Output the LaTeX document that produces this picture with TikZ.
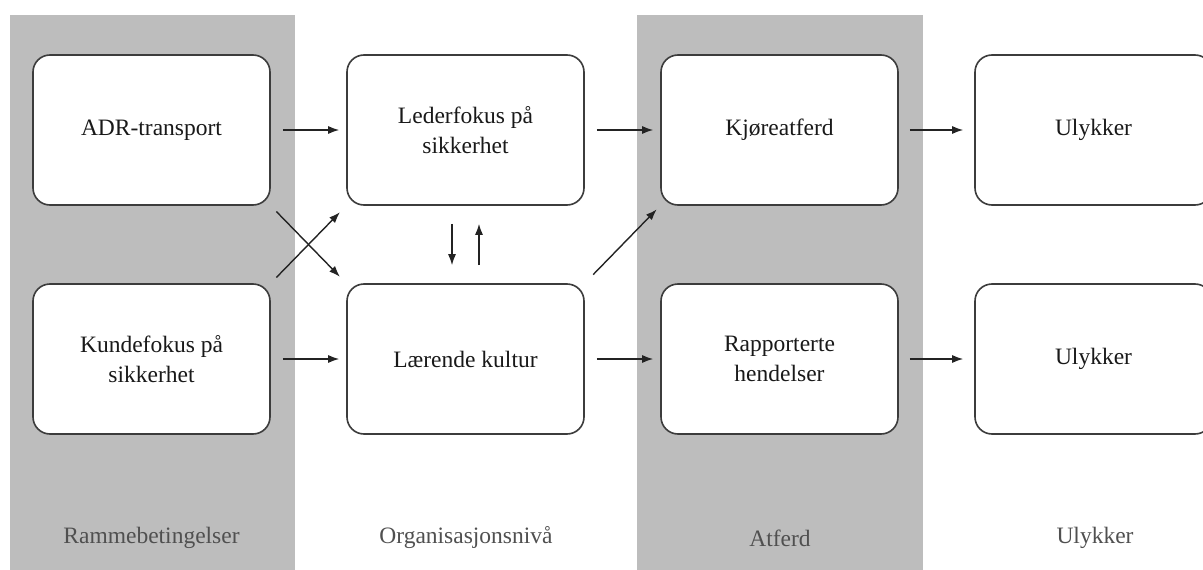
\documentclass[tikz,border=0pt]{standalone}
\usepackage{fontspec}
\setmainfont{Liberation Serif}
\usetikzlibrary{arrows.meta,calc}
\definecolor{bandgray}{RGB}{189,189,189}
\definecolor{boxline}{RGB}{60,60,60}
\definecolor{arrowcol}{RGB}{35,35,35}
\definecolor{labelgray}{RGB}{80,80,80}
\begin{document}
\begin{tikzpicture}[x=1pt,y=-1pt,
  stagebox/.style={draw=boxline,line width=1.6pt,fill=white,rounded corners=17pt,
    minimum width=237pt,minimum height=150pt,inner sep=0pt,align=center,
    font=\fontsize{23.5}{30}\selectfont,text=black!90},
  bandlabel/.style={font=\fontsize{23.5}{30}\selectfont,text=labelgray},
  arr/.style={draw=arrowcol,line width=1.4pt,-{Latex[length=11pt,width=8pt]}},
  band/.style={fill=bandgray,draw=none}]
\useasboundingbox (0,0) rectangle (1203,570);
\fill[white] (0,0) rectangle (1203,570);
% bands
\path[band] (10,15) rectangle (295,570);
\path[band] (637,15) rectangle (923,570);
% boxes
\node[stagebox] (adr) at (151.5,130) {ADR-transport};
\node[stagebox] (kunde) at (151.5,359) {Kundefokus på\\sikkerhet};
\node[stagebox] (leder) at (465.5,130) {Lederfokus på\\sikkerhet};
\node[stagebox] (laer) at (465.5,359) {Lærende kultur};
\node[stagebox] (kjore) at (779.5,130) {Kjøreatferd};
\node[stagebox] (rapp) at (779.5,359) {Rapporterte\\hendelser};
\node[stagebox] (uly1) at (1093.5,130) {Ulykker};
\node[stagebox] (uly2) at (1093.5,359) {Ulykker};
% band labels
\node[bandlabel] (l1) at (151.5,538) {Rammebetingelser};
\node[bandlabel] (l2) at (466,538) {Organisasjonsnivå};
\node[bandlabel] (l3) at (780,538) {Atferd};
\node[bandlabel] (l4) at (1095,538) {Ulykker};
% horizontal arrows
\draw[arr,shorten <=12pt,shorten >=7pt] (adr.east) -- (leder.west);
\draw[arr,shorten <=12pt,shorten >=7pt] (kunde.east) -- (laer.west);
\draw[arr,shorten <=12pt,shorten >=7pt] (leder.east) -- (kjore.west);
\draw[arr,shorten <=12pt,shorten >=7pt] (laer.east) -- (rapp.west);
\draw[arr,shorten <=11pt,shorten >=11pt] (kjore.east) -- (uly1.west);
\draw[arr,shorten <=11pt,shorten >=11pt] (rapp.east) -- (uly2.west);
% diagonal arrows
\draw[arr,shorten <=8pt,shorten >=9pt] (adr.south east) -- (laer.north west);
\draw[arr,shorten <=8pt,shorten >=9pt] (kunde.north east) -- (leder.south west);
\draw[arr,shorten <=12pt,shorten >=5pt] (laer.north east) -- (kjore.south west);
% vertical arrows
\draw[arr,shorten <=18pt,shorten >=18pt] ([xshift=-13.5pt]leder.south) -- ([xshift=-13.5pt]laer.north);
\draw[arr,shorten <=18pt,shorten >=18pt] ([xshift=13.5pt]laer.north) -- ([xshift=13.5pt]leder.south);
\end{tikzpicture}
\end{document}
